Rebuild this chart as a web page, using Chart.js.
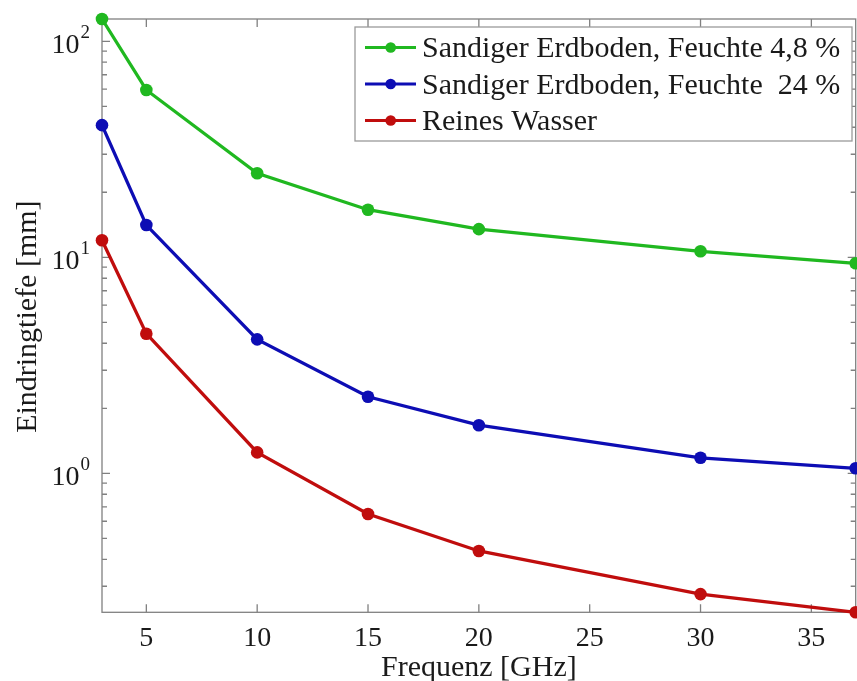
<!DOCTYPE html>
<html>
<head>
<meta charset="utf-8">
<script src="https://cdn.jsdelivr.net/npm/chart.js@4/dist/chart.umd.min.js"></script>
<style>
  html, body { margin: 0; padding: 0; background: #fff; overflow: hidden; }
  #wrap { width: 857px; height: 681px; overflow: hidden; }
</style>
</head>
<body>
<div id="wrap"><canvas id="myChart" width="862" height="681"></canvas></div>
<script>
// Frequenz in GHz
const freq = [3, 5, 10, 15, 20, 30, 37];
// Eindringtiefe in mm
const sandDry = [126.8, 59.5, 24.5, 16.6, 13.5, 10.66, 9.38];
const sandWet = [40.9, 14.1, 4.17, 2.26, 1.67, 1.18, 1.055];
const water = [12.0, 4.43, 1.25, 0.648, 0.437, 0.276, 0.2273];

const seriesNames = [
    'Sandiger Erdboden, Feuchte 4,8 %',
    'Sandiger Erdboden, Feuchte  24 %',
    'Reines Wasser'
];
const seriesColors = ['#20b820', '#0d0db4', '#c00d0d'];

const xTicks = [5, 10, 15, 20, 25, 30, 35];
const yMajorTicks = [1, 10, 100];
const yMajorExp = ['0', '1', '2'];
const yMinorTicks = [0.3, 0.4, 0.5, 0.6, 0.7, 0.8, 0.9,
    2, 3, 4, 5, 6, 7, 8, 9,
    20, 30, 40, 50, 60, 70, 80, 90];

const FONT = "'Liberation Serif', 'Times New Roman', serif";
const AXIS_COLOR = '#808080';
const TEXT_COLOR = '#1a1a1a';

function toPoints(values) {
    return freq.map((f, i) => ({ x: f, y: values[i] }));
}

const allValues = sandDry.concat(sandWet, water);

const axesPlugin = {
    id: 'matlabAxes',
    beforeDraw(chart) {
        const ctx = chart.ctx;
        ctx.save();
        ctx.fillStyle = '#fff';
        ctx.fillRect(0, 0, chart.width, chart.height);
        ctx.restore();
    },
    beforeDatasetsDraw(chart) {
        const { ctx, chartArea, scales } = chart;
        const { left, right, top, bottom } = chartArea;
        const x = scales.x, y = scales.y;
        ctx.save();
        ctx.strokeStyle = AXIS_COLOR;
        ctx.lineWidth = 1.3;

        // box
        ctx.strokeRect(left, top, right - left, bottom - top);

        // x ticks (inward, top and bottom)
        ctx.beginPath();
        xTicks.forEach(t => {
            const px = x.getPixelForValue(t);
            ctx.moveTo(px, bottom); ctx.lineTo(px, bottom - 8);
            ctx.moveTo(px, top); ctx.lineTo(px, top + 8);
        });
        // y ticks
        yMajorTicks.forEach(t => {
            const py = y.getPixelForValue(t);
            ctx.moveTo(left, py); ctx.lineTo(left + 8, py);
            ctx.moveTo(right, py); ctx.lineTo(right - 8, py);
        });
        yMinorTicks.forEach(t => {
            const py = y.getPixelForValue(t);
            if (py < top || py > bottom) return;
            ctx.moveTo(left, py); ctx.lineTo(left + 5, py);
            ctx.moveTo(right, py); ctx.lineTo(right - 5, py);
        });
        ctx.stroke();

        // x tick labels
        ctx.fillStyle = TEXT_COLOR;
        ctx.font = '28px ' + FONT;
        ctx.textAlign = 'center';
        ctx.textBaseline = 'alphabetic';
        xTicks.forEach(t => {
            ctx.fillText(String(t), x.getPixelForValue(t), bottom + 34);
        });

        // y tick labels 10^n
        yMajorTicks.forEach((t, i) => {
            const py = y.getPixelForValue(t);
            const labelRight = left - 12;
            ctx.font = '19px ' + FONT;
            const expW = ctx.measureText(yMajorExp[i]).width;
            ctx.textAlign = 'left';
            ctx.fillText(yMajorExp[i], labelRight - expW, py - 3);
            ctx.font = '28px ' + FONT;
            ctx.textAlign = 'right';
            ctx.fillText('10', labelRight - expW - 1, py + 12);
        });

        // axis titles
        ctx.font = '30px ' + FONT;
        ctx.textAlign = 'center';
        ctx.fillText('Frequenz [GHz]', (left + right) / 2, 676);
        ctx.save();
        ctx.translate(36, (top + bottom) / 2 + 1);
        ctx.rotate(-Math.PI / 2);
        ctx.fillText('Eindringtiefe [mm]', 0, 0);
        ctx.restore();

        ctx.restore();
    },
    afterDraw(chart) {
        const ctx = chart.ctx;
        const boxL = 355, boxT = 27, boxR = 852, boxB = 141;
        ctx.save();
        ctx.fillStyle = '#fff';
        ctx.fillRect(boxL, boxT, boxR - boxL, boxB - boxT);
        ctx.strokeStyle = '#9a9a9a';
        ctx.lineWidth = 1.3;
        ctx.strokeRect(boxL, boxT, boxR - boxL, boxB - boxT);

        ctx.font = '30px ' + FONT;
        ctx.textAlign = 'left';
        ctx.textBaseline = 'alphabetic';
        chart.data.datasets.forEach((ds, i) => {
            const base = 57 + i * 36.5;
            const my = base - 9.5;
            ctx.strokeStyle = ds.borderColor;
            ctx.lineWidth = 3;
            ctx.beginPath();
            ctx.moveTo(365, my); ctx.lineTo(416, my);
            ctx.stroke();
            ctx.fillStyle = ds.borderColor;
            ctx.beginPath();
            ctx.arc(390.7, my, 5.3, 0, Math.PI * 2);
            ctx.fill();
            ctx.fillStyle = TEXT_COLOR;
            ctx.fillText(ds.label, 422, base);
        });
        ctx.restore();
    }
};

const ctx = document.getElementById('myChart');

new Chart(ctx, {
    type: 'line',
    data: {
        datasets: [sandDry, sandWet, water].map((values, i) => ({
            label: seriesNames[i],
            data: toPoints(values),
            borderColor: seriesColors[i],
            backgroundColor: seriesColors[i],
            borderWidth: 3.3,
            pointRadius: 6.3,
            pointBorderWidth: 0,
            tension: 0,
            clip: false
        }))
    },
    options: {
        responsive: false,
        animation: false,
        layout: {
            padding: { left: 102, top: 19, right: 2.4, bottom: 68.7 }
        },
        plugins: {
            legend: { display: false },
            tooltip: { enabled: false }
        },
        scales: {
            x: {
                type: 'linear',
                min: freq[0],
                max: freq[freq.length - 1],
                display: false
            },
            y: {
                type: 'logarithmic',
                min: Math.min(...allValues),
                max: Math.max(...allValues),
                display: false
            }
        }
    },
    plugins: [axesPlugin]
});
</script>
</body>
</html>
